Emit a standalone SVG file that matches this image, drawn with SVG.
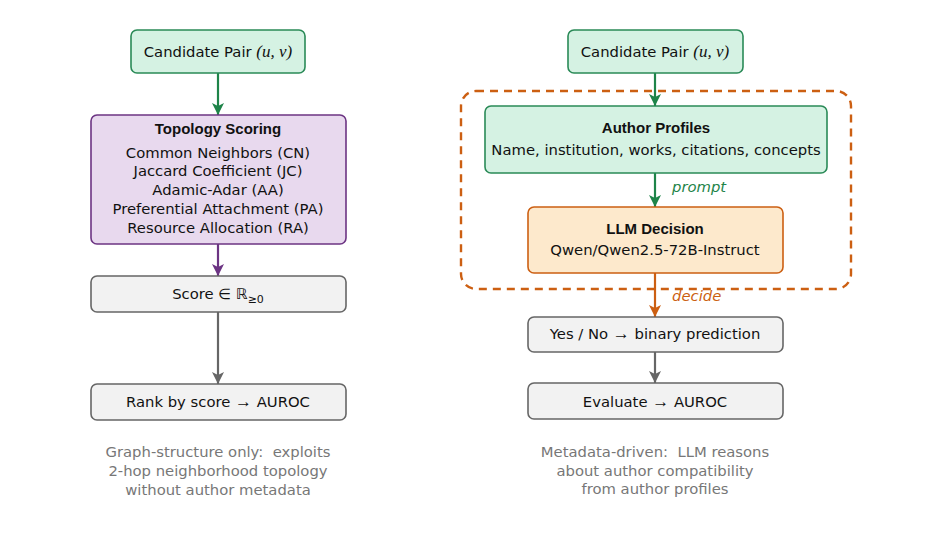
<svg xmlns="http://www.w3.org/2000/svg" width="942" height="548" viewBox="0 0 942 548">
<style>
text{font-family:"DejaVu Sans","Liberation Sans",sans-serif;font-size:14.8px;fill:#111;text-anchor:middle}
.b{font-family:"Liberation Sans","DejaVu Sans",sans-serif;font-weight:bold;font-size:15px}
.m{font-family:"Liberation Serif",serif;font-style:italic;font-size:17px}
.ar{font-family:"Liberation Serif",serif;font-size:17px}
.cap{fill:#777}
.lab{font-style:italic;text-anchor:start}
.green{fill:#d5f2e3;stroke:#2a8a57;stroke-width:1.6}
.purple{fill:#e8d9ee;stroke:#6c3483;stroke-width:1.6}
.gray{fill:#f2f2f2;stroke:#666;stroke-width:1.6}
.orange{fill:#fde9cc;stroke:#cc5f12;stroke-width:1.6}
.c{fill:none;stroke-width:2.2}
</style>
<defs>
<marker id="ag" markerWidth="12" markerHeight="14" refX="12" refY="7" orient="auto" markerUnits="userSpaceOnUse"><path d="M0,1 L12,7 L0,13 L3,7 Z" fill="#1e8449"/></marker>
<marker id="ap" markerWidth="12" markerHeight="14" refX="12" refY="7" orient="auto" markerUnits="userSpaceOnUse"><path d="M0,1 L12,7 L0,13 L3,7 Z" fill="#6c3483"/></marker>
<marker id="ay" markerWidth="12" markerHeight="14" refX="12" refY="7" orient="auto" markerUnits="userSpaceOnUse"><path d="M0,1 L12,7 L0,13 L3,7 Z" fill="#666"/></marker>
<marker id="ao" markerWidth="12" markerHeight="14" refX="12" refY="7" orient="auto" markerUnits="userSpaceOnUse"><path d="M0,1 L12,7 L0,13 L3,7 Z" fill="#cc5f12"/></marker>
</defs>

<rect id="llm-region" x="461" y="91" width="390" height="198" rx="15" fill="none" stroke="#cc5f12" stroke-width="2.4" stroke-dasharray="8,6"/>

<g id="connectors">
<line class="c" x1="218" y1="73" x2="218" y2="115" stroke="#1e8449" marker-end="url(#ag)"/>
<line class="c" x1="218" y1="244" x2="218" y2="276" stroke="#6c3483" marker-end="url(#ap)"/>
<line class="c" x1="218" y1="312" x2="218" y2="384" stroke="#666" marker-end="url(#ay)"/>
<line class="c" x1="655" y1="73" x2="655" y2="106" stroke="#1e8449" marker-end="url(#ag)"/>
<line class="c" x1="655" y1="173" x2="655" y2="207" stroke="#1e8449" marker-end="url(#ag)"/>
<text class="lab" x="672" y="192" style="fill:#1e8449">prompt</text>
<line class="c" x1="655" y1="273" x2="655" y2="317" stroke="#cc5f12" marker-end="url(#ao)"/>
<text class="lab" x="672" y="301" style="fill:#cc5f12">decide</text>
<line class="c" x1="655" y1="352" x2="655" y2="383" stroke="#666" marker-end="url(#ay)"/>
</g>

<g id="cand-left">
<rect class="green" x="131" y="30" width="174" height="43" rx="6"/>
<text x="218" y="57">Candidate Pair <tspan class="m">(u, v)</tspan></text>
</g>
<g id="topology">
<rect class="purple" x="91" y="115" width="255" height="129" rx="6"/>
<text class="b" x="218" y="134">Topology Scoring</text>
<text x="218" y="158">Common Neighbors (CN)</text>
<text x="218" y="176">Jaccard Coefficient (JC)</text>
<text x="218" y="195">Adamic-Adar (AA)</text>
<text x="218" y="214">Preferential Attachment (PA)</text>
<text x="218" y="233">Resource Allocation (RA)</text>
</g>
<g id="score">
<rect class="gray" x="91" y="276" width="255" height="36" rx="6"/>
<text x="218" y="299">Score ∈ ℝ<tspan font-size="11" dy="4">≥0</tspan></text>
</g>
<g id="rank">
<rect class="gray" x="91" y="384" width="255" height="36" rx="6"/>
<text x="218" y="407">Rank by score <tspan class="ar">→</tspan> AUROC</text>
</g>
<g id="cap-left">
<text class="cap" x="218" y="457">Graph-structure only:&#160; exploits</text>
<text class="cap" x="218" y="476">2-hop neighborhood topology</text>
<text class="cap" x="218" y="495">without author metadata</text>
</g>

<g id="cand-right">
<rect class="green" x="568" y="30" width="175" height="43" rx="6"/>
<text x="655" y="57">Candidate Pair <tspan class="m">(u, v)</tspan></text>
</g>
<g id="profiles">
<rect class="green" x="485" y="106" width="342" height="67" rx="6"/>
<text class="b" x="656" y="133">Author Profiles</text>
<text x="656" y="155">Name, institution, works, citations, concepts</text>
</g>
<g id="llm">
<rect class="orange" x="528" y="207" width="255" height="66" rx="6"/>
<text class="b" x="655" y="234">LLM Decision</text>
<text x="655" y="255">Qwen/Qwen2.5-72B-Instruct</text>
</g>
<g id="yesno">
<rect class="gray" x="528" y="317" width="255" height="35" rx="6"/>
<text x="655" y="339">Yes / No <tspan class="ar">→</tspan> binary prediction</text>
</g>
<g id="evaluate">
<rect class="gray" x="528" y="383" width="255" height="36" rx="6"/>
<text x="655" y="407">Evaluate <tspan class="ar">→</tspan> AUROC</text>
</g>
<g id="cap-right">
<text class="cap" x="655" y="457">Metadata-driven:&#160; LLM reasons</text>
<text class="cap" x="655" y="476">about author compatibility</text>
<text class="cap" x="655" y="494">from author profiles</text>
</g>
</svg>
